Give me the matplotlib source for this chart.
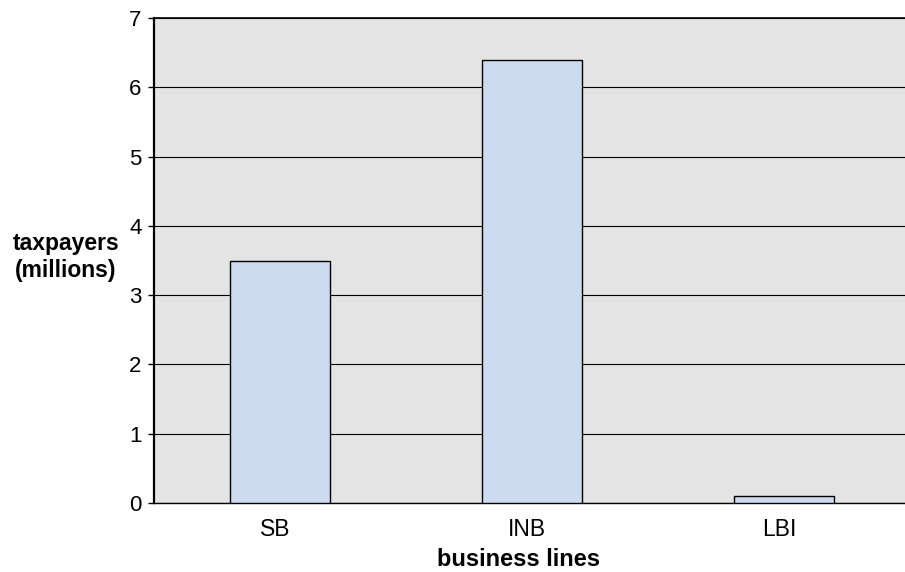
import matplotlib
matplotlib.use("Agg")
import matplotlib.pyplot as plt
import matplotlib.transforms as mtransforms
import numpy as np

plt.rcParams['font.family'] = ['Liberation Sans', 'DejaVu Sans']

# taxpayers per business line, in millions
lines = ["SB", "INB", "LBI"]
taxpayers = [3.5, 6.4, 0.1]
yticks = [0, 1, 2, 3, 4, 5, 6, 7]

fig = plt.figure(figsize=(9.05, 5.72), dpi=100)
ax = fig.add_axes([154 / 905, 1 - 503 / 572, 756 / 905, 485 / 572])
ax.set_facecolor("#e4e4e4")

x = np.arange(len(lines))
ax.bar(x, taxpayers, width=0.4, color="#ccdbf0", edgecolor="black",
       linewidth=1.0, zorder=3)

ax.set_xlim(-0.5, len(lines) - 0.5)
ax.set_ylim(0, 7)
ax.set_yticks(yticks)
ax.yaxis.grid(True, color="black", linewidth=0.8, zorder=1)
ax.set_axisbelow(True)
ax.set_xticks(x)
ax.set_xticklabels(lines, fontsize=16.5)
ax.tick_params(axis="x", length=0, pad=11)
ax.tick_params(axis="y", length=4, width=1, labelsize=16, pad=5)

# category labels sit a little left of the bar centres
shift = mtransforms.ScaledTranslation(-5 / 100, 0, fig.dpi_scale_trans)
for lbl in ax.get_xticklabels():
    lbl.set_transform(lbl.get_transform() + shift)

for side in ["left", "top", "bottom"]:
    ax.spines[side].set_color("black")
ax.spines["left"].set_linewidth(1.6)
ax.spines["top"].set_linewidth(1.2)
ax.spines["bottom"].set_linewidth(1.0)
ax.spines["right"].set_visible(False)

fig.text(518 / 905, 1 - 566 / 572, "business lines", ha="center",
         va="baseline", fontsize=17, fontweight="bold")
fig.text(66 / 905, 1 - 257 / 572, "taxpayers\n(millions)", ha="center",
         va="center", fontsize=16.5, fontweight="bold", linespacing=1.25)

fig.savefig("out.png", dpi=100)
